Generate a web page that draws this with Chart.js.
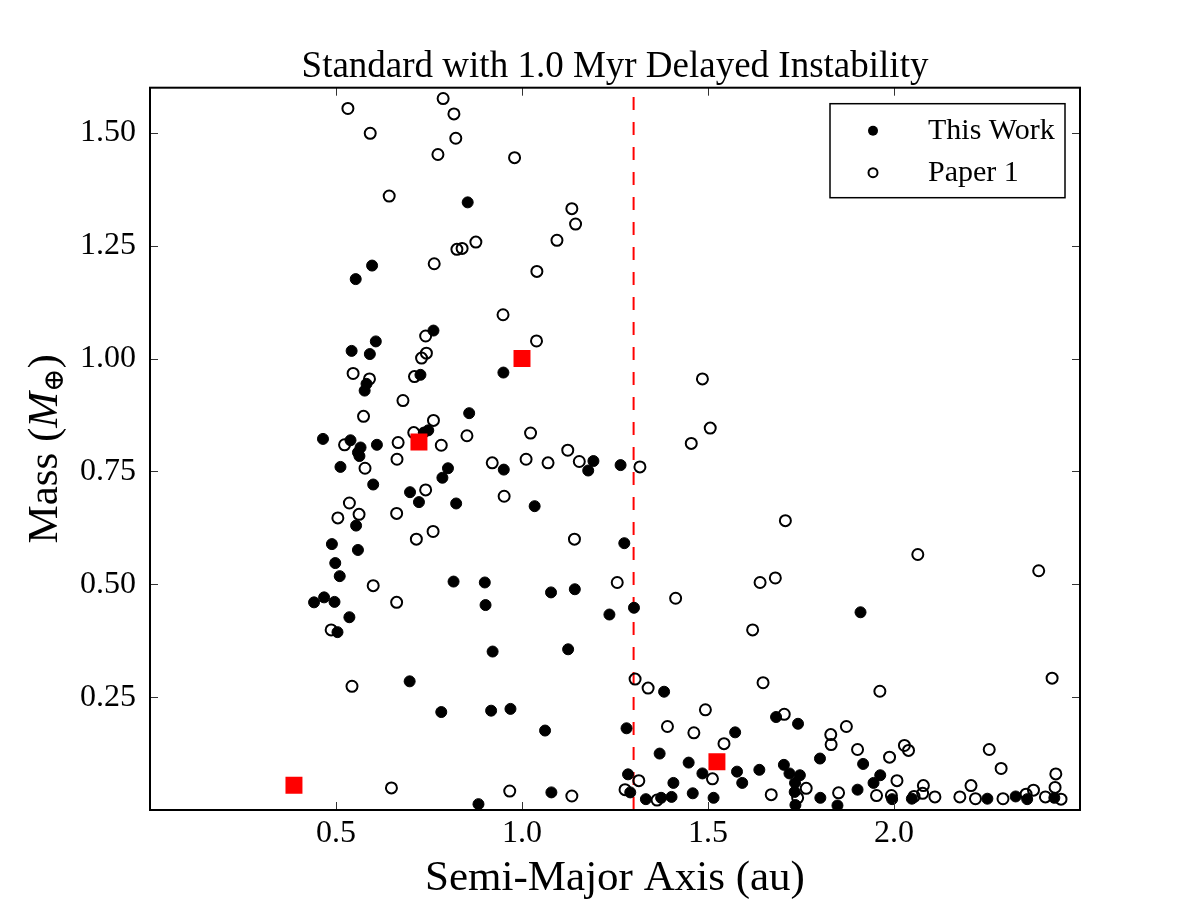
<!DOCTYPE html>
<html>
<head>
<meta charset="utf-8">
<script src="https://cdn.jsdelivr.net/npm/chart.js@4.4.1/dist/chart.umd.min.js"></script>
<style>
  html, body { margin: 0; padding: 0; background: #fff; }
  #wrap { width: 1200px; height: 900px; }
</style>
</head>
<body>
<div id="wrap"><canvas id="chart1" width="1200" height="900"></canvas></div>
<script>
// data: semi-major axis (au) and mass (Earth masses)
var thisWorkA = [0.597, 0.553, 0.854, 0.762, 0.607, 0.542, 0.591, 0.582, 0.577, 0.727, 0.748, 0.736, 0.465, 0.539, 0.566, 0.559, 0.563, 0.610, 0.512, 0.801, 0.786, 0.600, 0.699, 0.723, 0.823, 0.554, 0.489, 0.559, 0.498,
  0.950, 0.858, 0.951, 1.192, 1.178, 1.265, 1.034, 1.275,
  0.510, 0.816, 0.441, 0.468, 0.496, 0.536, 0.504, 0.698, 0.783,
  0.900, 1.078, 1.142, 0.902, 1.235, 1.301, 0.921, 1.124, 1.382, 0.917, 0.969, 1.062, 1.281, 1.573, 1.370, 1.448, 1.485, 1.578, 1.638, 1.592, 1.285, 1.407, 1.079, 1.291, 1.333, 1.374, 1.402, 1.459, 1.515, 0.883,
  1.910, 1.683, 1.742, 1.801, 1.917, 1.704, 1.719, 1.747, 1.734, 1.963, 1.945, 1.733, 1.735, 2.251, 2.327, 2.358, 2.431, 1.902, 1.995, 2.048, 1.802, 1.848];
var thisWorkM = [1.206, 1.176, 1.346, 1.062, 1.038, 1.017, 1.010, 0.944, 0.929, 0.964, 0.841, 0.836, 0.822, 0.819, 0.803, 0.792, 0.784, 0.809, 0.760, 0.757, 0.736, 0.721, 0.704, 0.682, 0.679, 0.630, 0.589, 0.576, 0.547,
  0.969, 0.879, 0.754, 0.773, 0.752, 0.764, 0.673, 0.591,
  0.518, 0.506, 0.460, 0.471, 0.461, 0.427, 0.394, 0.285, 0.217,
  0.504, 0.482, 0.489, 0.454, 0.433, 0.448, 0.351, 0.356, 0.262, 0.220, 0.224, 0.176, 0.181, 0.172, 0.125, 0.105, 0.081, 0.085, 0.089, 0.060, 0.079, 0.060, 0.039, 0.039, 0.024, 0.027, 0.029, 0.037, 0.027, 0.013,
  0.438, 0.206, 0.191, 0.114, 0.102, 0.100, 0.081, 0.077, 0.060, 0.077, 0.060, 0.040, 0.011, 0.025, 0.030, 0.024, 0.027, 0.045, 0.024, 0.025, 0.027, 0.010];

var paper1A = [0.532, 0.788, 0.817, 0.592, 0.822, 0.774, 0.643, 0.825, 0.764,
  0.980, 1.134, 1.144, 0.839, 0.876, 1.094, 1.040, 0.949,
  0.741, 0.743, 0.730, 0.546, 0.590, 0.711, 0.680, 0.574, 0.762, 0.709, 0.523, 0.667, 0.783, 0.664, 0.578, 0.741, 0.536, 0.505, 0.562, 0.663, 0.761, 0.716,
  1.039, 1.485, 1.506, 1.455, 0.852, 1.023, 1.123, 0.920, 1.011, 1.070, 1.154, 1.317, 0.952, 1.141,
  1.708, 2.064, 2.389,
  0.600, 0.663, 0.487, 0.543, 0.649,
  1.256, 1.413, 1.640, 1.620, 1.304, 1.339, 1.648, 1.493, 1.391, 1.462, 1.543, 1.512, 1.314, 0.967, 1.134, 1.277, 1.363,
  1.681, 2.425, 1.962, 1.705, 1.872, 1.830, 1.831, 1.902, 2.028, 2.039, 2.256, 1.988, 2.288, 2.008, 1.764, 1.741, 2.435, 2.433, 2.375, 2.207, 2.079, 2.077, 2.054, 2.110, 2.177, 2.219, 2.293, 2.355, 2.407, 2.449, 1.953, 1.993, 1.851, 1.670];
var paper1M = [1.554, 1.576, 1.542, 1.499, 1.488, 1.452, 1.360, 1.242, 1.210,
  1.445, 1.332, 1.298, 1.244, 1.258, 1.262, 1.193, 1.097,
  1.050, 1.012, 1.001, 0.967, 0.955, 0.960, 0.907, 0.872, 0.863, 0.836, 0.809, 0.814, 0.808, 0.777, 0.757, 0.709, 0.680, 0.647, 0.655, 0.657, 0.617, 0.600,
  1.039, 0.955, 0.846, 0.812, 0.829, 0.835, 0.797, 0.769, 0.777, 0.769, 0.772, 0.760, 0.695, 0.600,
  0.641, 0.566, 0.530,
  0.497, 0.460, 0.399, 0.274, 0.049,
  0.504, 0.469, 0.504, 0.399, 0.290, 0.270, 0.282, 0.222, 0.185, 0.171, 0.147, 0.069, 0.065, 0.042, 0.031, 0.045, 0.022,
  0.514, 0.292, 0.263, 0.212, 0.185, 0.167, 0.145, 0.134, 0.143, 0.132, 0.134, 0.117, 0.092, 0.065, 0.048, 0.027, 0.080, 0.050, 0.044, 0.054, 0.054, 0.037, 0.030, 0.029, 0.029, 0.025, 0.025, 0.035, 0.029, 0.024, 0.032, 0.032, 0.038, 0.034];

// Mercury, Venus, Earth, Mars
var solarA = [0.387, 0.723, 1.0, 1.524];
var solarM = [0.055, 0.815, 1.0, 0.107];

var instabilityA = 1.3;

var xTicks = [0.5, 1.0, 1.5, 2.0];
var yTicks = [0.25, 0.50, 0.75, 1.00, 1.25, 1.50];

var serif = "'Liberation Serif', 'DejaVu Serif', serif";

function toPoints(xs, ys) {
    return xs.map(function(x, i) { return { x: x, y: ys[i] }; });
}

// box round the plot, inward ticks on all four sides
var frame = {
    id: 'frame',
    afterDatasetsDraw: function(chart) {
        var ctx = chart.ctx, a = chart.chartArea;
        var sx = chart.scales.x, sy = chart.scales.y;
        ctx.save();
        ctx.strokeStyle = '#333';
        ctx.lineWidth = 1;
        ctx.beginPath();
        xTicks.forEach(function(v) {
            var p = Math.round(sx.getPixelForValue(v)) + 0.5;
            ctx.moveTo(p, a.bottom); ctx.lineTo(p, a.bottom - 8);
            ctx.moveTo(p, a.top); ctx.lineTo(p, a.top + 8);
        });
        yTicks.forEach(function(v) {
            var p = Math.round(sy.getPixelForValue(v)) + 0.5;
            ctx.moveTo(a.left, p); ctx.lineTo(a.left + 8, p);
            ctx.moveTo(a.right, p); ctx.lineTo(a.right - 8, p);
        });
        ctx.stroke();
        ctx.strokeStyle = '#000';
        ctx.lineWidth = 2;
        ctx.strokeRect(a.left, a.top, a.right - a.left, a.bottom - a.top);
        ctx.restore();
    }
};

// y title with italic M and the Earth symbol as subscript
var yTitle = {
    id: 'yTitle',
    afterDraw: function(chart) {
        var ctx = chart.ctx, a = chart.chartArea;
        var parts = [
            { t: 'Mass (', f: '43px ' + serif, dy: 0 },
            { t: 'M', f: 'italic 43px ' + serif, dy: 0 },
            { t: '\u2295', f: '28px ' + serif, dy: 10 },
            { t: ')', f: '43px ' + serif, dy: 0 }
        ];
        ctx.save();
        var total = 0;
        parts.forEach(function(p) { ctx.font = p.f; p.w = ctx.measureText(p.t).width; total += p.w; });
        ctx.translate(46, (a.top + a.bottom) / 2);
        ctx.rotate(-Math.PI / 2);
        ctx.fillStyle = '#000';
        ctx.textBaseline = 'middle';
        var x = -total / 2;
        parts.forEach(function(p) {
            ctx.font = p.f;
            ctx.fillText(p.t, x, p.dy);
            x += p.w;
        });
        ctx.restore();
    }
};

// legend box in the upper right corner
var cornerLegend = {
    id: 'cornerLegend',
    afterDraw: function(chart) {
        var ctx = chart.ctx, a = chart.chartArea;
        var bx = a.right - 250, by = a.top + 16, bw = 235, bh = 94;
        ctx.save();
        ctx.fillStyle = '#fff';
        ctx.fillRect(bx, by, bw, bh);
        ctx.strokeStyle = '#000';
        ctx.lineWidth = 1.5;
        ctx.strokeRect(bx, by, bw, bh);
        ctx.font = '30px ' + serif;
        ctx.textBaseline = 'middle';
        ctx.fillStyle = '#000';
        var rows = [{ label: 'This Work', filled: true, y: by + 27 }, { label: 'Paper 1', filled: false, y: by + 69 }];
        rows.forEach(function(r) {
            ctx.beginPath();
            ctx.arc(bx + 43, r.y, r.filled ? 5 : 4.5, 0, Math.PI * 2);
            if (r.filled) { ctx.fill(); } else { ctx.lineWidth = 2; ctx.stroke(); }
            ctx.fillText(r.label, bx + 98, r.y);
        });
        ctx.restore();
    }
};

var ctx = document.getElementById('chart1').getContext('2d');
var myChart = new Chart(ctx, {
    type: 'scatter',
    data: {
        datasets: [{
            label: 'Solar System',
            data: toPoints(solarA, solarM),
            pointStyle: 'rect',
            pointRadius: 12,
            backgroundColor: '#ff0000',
            borderColor: '#ff0000',
            borderWidth: 0,
            order: 0
        },
        {
            label: 'This Work',
            data: toPoints(thisWorkA, thisWorkM),
            pointStyle: 'circle',
            pointRadius: 5.5,
            backgroundColor: '#000',
            borderColor: '#000',
            borderWidth: 1,
            order: 1
        },
        {
            label: 'Paper 1',
            data: toPoints(paper1A, paper1M),
            pointStyle: 'circle',
            pointRadius: 5.5,
            backgroundColor: 'rgba(0,0,0,0)',
            borderColor: '#000',
            borderWidth: 2,
            order: 2
        },
        {
            type: 'line',
            label: 'instability',
            data: [{ x: instabilityA, y: 0 }, { x: instabilityA, y: 1.6 }],
            borderColor: '#ff0000',
            borderWidth: 2,
            borderDash: [13, 12],
            pointRadius: 0,
            fill: false,
            order: 3
        }]
    },
    options: {
        responsive: false,
        animation: false,
        events: [],
        layout: { padding: { left: 30, right: 0, top: 0, bottom: 0 } },
        plugins: {
            legend: { display: false },
            tooltip: { enabled: false },
            title: {
                display: true,
                text: 'Standard with 1.0 Myr Delayed Instability',
                color: '#000',
                font: { family: serif, size: 37, weight: 'normal', lineHeight: 1.1 },
                padding: { top: 47, bottom: 0 }
            }
        },
        scales: {
            x: {
                type: 'linear',
                min: 0,
                max: 2.5,
                grid: { display: false, drawTicks: false },
                border: { display: false },
                afterBuildTicks: function(scale) {
                    scale.ticks = xTicks.map(function(v) { return { value: v }; });
                },
                afterFit: function(scale) { scale.height = 90; },
                ticks: {
                    color: '#000',
                    padding: 4,
                    maxRotation: 0,
                    font: { family: serif, size: 32 },
                    callback: function(v) { return v.toFixed(1); }
                },
                title: {
                    display: true,
                    text: 'Semi-Major Axis (au)',
                    color: '#000',
                    font: { family: serif, size: 43, lineHeight: 1.0 },
                    padding: { top: 0, bottom: 0 }
                }
            },
            y: {
                type: 'linear',
                min: 0,
                max: 1.6,
                grid: { display: false, drawTicks: false },
                border: { display: false },
                afterBuildTicks: function(scale) {
                    scale.ticks = yTicks.map(function(v) { return { value: v }; });
                },
                afterFit: function(scale) { scale.width = 120; },
                ticks: {
                    color: '#000',
                    padding: 14,
                    font: { family: serif, size: 32 },
                    callback: function(v) { return v.toFixed(2); }
                }
            },
            yRight: {
                type: 'linear',
                position: 'right',
                min: 0,
                max: 1.6,
                grid: { display: false, drawTicks: false },
                border: { display: false },
                ticks: { display: false },
                afterFit: function(scale) { scale.width = 120; }
            }
        }
    },
    plugins: [frame, yTitle, cornerLegend]
});
</script>
</body>
</html>
